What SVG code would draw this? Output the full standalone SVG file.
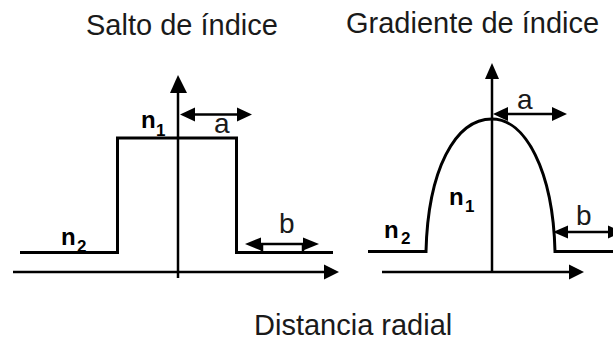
<svg xmlns="http://www.w3.org/2000/svg" width="613" height="340" viewBox="0 0 613 340">
<style>
.ln{stroke:#000;stroke-width:2.5;fill:none}
.pr{stroke:#000;stroke-width:3;fill:none}
.hd{fill:#000;stroke:none}
.t{font-family:"Liberation Sans",Arial,sans-serif;font-size:29px;fill:#1a1a1a}
.l{font-family:"Liberation Sans",Arial,sans-serif;font-size:28px;fill:#1a1a1a}
.n{font-family:"Liberation Sans",Arial,sans-serif;font-weight:bold;font-size:24px;fill:#000}
.s{font-family:"Liberation Sans",Arial,sans-serif;font-weight:bold;font-size:17px;fill:#000}
</style>
<rect width="613" height="340" fill="#fff"/>
<g id="titles">
<text class="t" x="86" y="35">Salto de índice</text>
<text class="t" x="346" y="33">Gradiente de índice</text>
<text class="t" x="254" y="335">Distancia radial</text>
</g>
<g id="step-profile">
<path class="pr" d="M20,252.5 H117.5 V138 H236.5 V252.5 H333"/>
<text class="n" x="141" y="128">n</text><text class="s" x="156" y="136">1</text>
<text class="n" x="61" y="245">n</text><text class="s" x="77" y="252">2</text>
</g>
<g id="graded-profile">
<path class="pr" d="M368,251.5 H426 C428,170 455,119 492,119 C525,119 553,170 555,251.5 H613"/>
<text class="n" x="449" y="205">n</text><text class="s" x="465" y="212">1</text>
<text class="n" x="384" y="238">n</text><text class="s" x="401" y="244">2</text>
</g>
<g id="connectors">
<line class="ln" x1="178" y1="278" x2="178" y2="90"/>
<polygon class="hd" points="178,75 170,93 187,93"/>
<line class="ln" x1="13" y1="272" x2="328" y2="272"/>
<polygon class="hd" points="339,272 324,264.5 324,279.5"/>
<line class="ln" x1="492" y1="273" x2="492" y2="75"/>
<polygon class="hd" points="492,63 485,79 499,79"/>
<line class="ln" x1="382" y1="272" x2="573" y2="272"/>
<polygon class="hd" points="584,272 569,264.5 569,279.5"/>
<line class="ln" x1="190" y1="114.5" x2="240" y2="114.5"/>
<polygon class="hd" points="180,114.5 195,107.5 195,121.5"/>
<polygon class="hd" points="252,114.5 237,107.5 237,121.5"/>
<line class="ln" x1="255" y1="244" x2="310" y2="244"/>
<polygon class="hd" points="245,244 261,237.5 261,250.5"/>
<polygon class="hd" points="319,244 303,237.5 303,250.5"/>
<line class="ln" x1="262" y1="244" x2="262" y2="252"/>
<line class="ln" x1="303" y1="244" x2="303" y2="252"/>
<line class="ln" x1="500" y1="114" x2="556" y2="114"/>
<polygon class="hd" points="493,114 508,107 508,121"/>
<polygon class="hd" points="567,114 552,107 552,121"/>
<line class="ln" x1="560" y1="232" x2="613" y2="232"/>
<polygon class="hd" points="553,232 568,225.5 568,238.5"/>
<polygon class="hd" points="622,232 608,225.5 608,238.5"/>
</g>
<g id="labels">
<text class="l" x="214" y="133">a</text>
<text class="l" x="279" y="233">b</text>
<text class="l" x="517" y="109">a</text>
<text class="l" x="576" y="225">b</text>
</g>
</svg>
